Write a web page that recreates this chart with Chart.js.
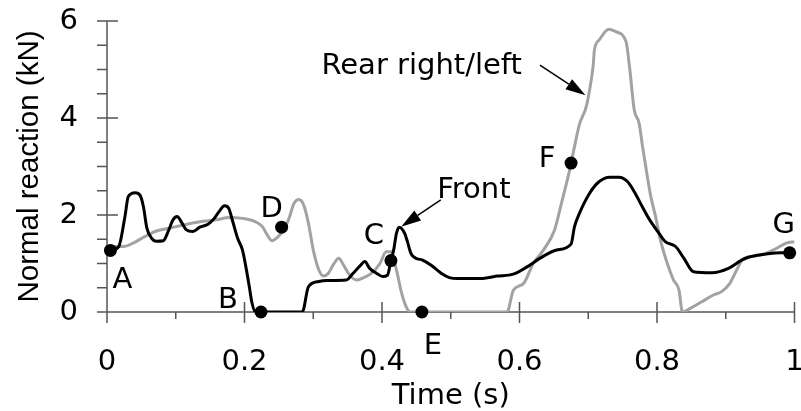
<!DOCTYPE html>
<html>
<head>
<meta charset="utf-8">
<script src="https://cdn.jsdelivr.net/npm/chart.js@4.4.1/dist/chart.umd.min.js"></script>
<style>
  html, body { margin: 0; padding: 0; background: #fff; }
  canvas { display: block; }
</style>
</head>
<body>
<canvas id="reactionChart" width="801" height="411"></canvas>
<script>
// Front wheel normal reaction (black)
const frontTime = [
  0, 0.005, 0.017, 0.026, 0.031, 0.041, 0.048, 0.053, 0.058, 0.065,
  0.072, 0.082, 0.089, 0.096, 0.102, 0.108, 0.115, 0.125, 0.135, 0.147,
  0.156, 0.163, 0.171, 0.177, 0.183, 0.190, 0.197, 0.202, 0.207, 0.211,
  0.216, 0.224, 0.284, 0.293, 0.308, 0.320, 0.348, 0.358, 0.368, 0.375,
  0.382, 0.392, 0.401, 0.408, 0.413, 0.417, 0.421, 0.425, 0.433, 0.437,
  0.442, 0.449, 0.459, 0.471, 0.486, 0.498, 0.510, 0.543, 0.567, 0.591,
  0.611, 0.630, 0.654, 0.675, 0.680, 0.687, 0.702, 0.716, 0.731, 0.745,
  0.757, 0.767, 0.776, 0.788, 0.803, 0.812, 0.827, 0.839, 0.853, 0.880,
  0.904, 0.923, 0.933, 0.961, 0.981, 0.993
];
const frontForce = [
  1.26, 1.27, 1.35, 1.96, 2.38, 2.46, 2.41, 2.17, 1.73, 1.52,
  1.46, 1.47, 1.66, 1.90, 1.97, 1.86, 1.70, 1.66, 1.75, 1.81,
  1.93, 2.07, 2.19, 2.14, 1.86, 1.52, 1.28, 0.93, 0.52, 0.18,
  0, 0, 0, 0.52, 0.63, 0.65, 0.66, 0.80, 0.95, 1.04,
  0.90, 0.80, 0.73, 0.76, 1.06, 1.28, 1.62, 1.75, 1.62, 1.45,
  1.21, 1.11, 1.07, 0.97, 0.80, 0.71, 0.69, 0.69, 0.74, 0.78,
  0.93, 1.11, 1.28, 1.40, 1.76, 2.03, 2.45, 2.69, 2.78, 2.78,
  2.69, 2.48, 2.24, 1.93, 1.62, 1.45, 1.35, 1.11, 0.83, 0.81,
  0.90, 1.07, 1.13, 1.20, 1.22, 1.22
];

// Rear right/left normal reaction (grey)
const rearTime = [
  0, 0.024, 0.038, 0.053, 0.072, 0.091, 0.110, 0.135, 0.159, 0.178,
  0.197, 0.216, 0.226, 0.233, 0.240, 0.248, 0.255, 0.264, 0.272, 0.279,
  0.286, 0.293, 0.300, 0.308, 0.315, 0.322, 0.329, 0.337, 0.344, 0.353,
  0.363, 0.375, 0.385, 0.397, 0.406, 0.413, 0.421, 0.428, 0.435, 0.441,
  0.582, 0.591, 0.606, 0.620, 0.635, 0.651, 0.661, 0.673, 0.680, 0.687,
  0.697, 0.702, 0.707, 0.709, 0.716, 0.730, 0.740, 0.755, 0.760, 0.767,
  0.774, 0.779, 0.786, 0.791, 0.798, 0.805, 0.815, 0.824, 0.832, 0.837,
  0.849, 0.865, 0.882, 0.894, 0.906, 0.916, 0.925, 0.942, 0.957, 0.976,
  0.988, 1.0
];
const rearForce = [
  1.35, 1.35, 1.42, 1.54, 1.67, 1.73, 1.79, 1.86, 1.90, 1.95,
  1.93, 1.86, 1.76, 1.59, 1.47, 1.54, 1.66, 1.90, 2.24, 2.32,
  2.21, 1.83, 1.28, 0.87, 0.74, 0.80, 0.97, 1.11, 0.97, 0.76,
  0.66, 0.72, 0.80, 1.00, 1.24, 1.24, 0.87, 0.42, 0.11, 0,
  0, 0.45, 0.59, 1.00, 1.28, 1.69, 2.24, 2.93, 3.41, 3.86,
  4.23, 4.58, 5.06, 5.40, 5.61, 5.83, 5.78, 5.57, 5.06, 4.16,
  3.89, 3.41, 2.79, 2.38, 1.96, 1.48, 1.00, 0.66, 0.45, 0,
  0.08, 0.21, 0.35, 0.42, 0.59, 0.87, 1.09, 1.15, 1.20, 1.33,
  1.42, 1.45
];

// Marked instants A..G
const markerLabels = ['A', 'B', 'C', 'D', 'E', 'F', 'G'];
const markerTime = [0.005, 0.224, 0.413, 0.254, 0.458, 0.675, 0.993];
const markerForce = [1.27, 0, 1.06, 1.75, 0, 3.07, 1.22];

const FONT = 'DejaVu Sans';
const GREY = '#a2a2a2';
// label offsets from each dot, px
const LABEL_OFFSETS = [[12, 27], [-33, -15], [-17, -27], [-10, -21], [11, 31], [-24, -7], [-6, -30]];

function toPoints(xs, ys) {
  return xs.map((x, i) => ({ x, y: ys[i] }));
}

function drawArrow(ctx, x0, y0, x1, y1) {
  const ang = Math.atan2(y1 - y0, x1 - x0);
  const len = 20, half = 6;
  const bx = x1 - len * Math.cos(ang), by = y1 - len * Math.sin(ang);
  ctx.beginPath();
  ctx.moveTo(x0, y0);
  ctx.lineTo(bx, by);
  ctx.stroke();
  ctx.beginPath();
  ctx.moveTo(x1, y1);
  ctx.lineTo(bx + half * Math.sin(ang), by - half * Math.cos(ang));
  ctx.lineTo(bx - half * Math.sin(ang), by + half * Math.cos(ang));
  ctx.closePath();
  ctx.fill();
}

// axis lines with crossing major ticks and outside minor ticks
const axisPlugin = {
  id: 'crossAxes',
  beforeDatasetsDraw(chart) {
    const { ctx, chartArea: a, scales: { x, y } } = chart;
    ctx.save();
    ctx.strokeStyle = '#555';
    ctx.lineWidth = 1.5;
    ctx.beginPath();
    ctx.moveTo(a.left, a.top);
    ctx.lineTo(a.left, a.bottom);
    ctx.moveTo(a.left, a.bottom);
    ctx.lineTo(a.right, a.bottom);
    for (let i = 0; i <= 12; i++) {
      const py = y.getPixelForValue(i * 0.5);
      ctx.moveTo(a.left - 10, py);
      ctx.lineTo(a.left + (i % 4 === 0 ? 11 : 0), py);
    }
    for (let i = 0; i <= 10; i++) {
      const px = x.getPixelForValue(i / 10);
      const major = i % 2 === 0;
      ctx.moveTo(px, a.bottom + (major ? 11 : 7));
      ctx.lineTo(px, a.bottom - (major ? 10 : 0));
    }
    ctx.stroke();
    ctx.restore();
  }
};

const notePlugin = {
  id: 'notes',
  afterDatasetsDraw(chart) {
    const { ctx, scales: { x, y } } = chart;
    ctx.save();
    ctx.fillStyle = '#000';
    ctx.strokeStyle = '#000';
    ctx.lineWidth = 1.5;
    ctx.font = `29px "${FONT}"`;
    ctx.textAlign = 'center';
    ctx.textBaseline = 'alphabetic';
    markerLabels.forEach((lab, i) => {
      const [dx, dy] = LABEL_OFFSETS[i];
      ctx.fillText(lab, x.getPixelForValue(markerTime[i]) + dx, y.getPixelForValue(markerForce[i]) + dy + 10.5);
    });
    ctx.fillText('Front', x.getPixelForValue(0.5337), y.getPixelForValue(2.557) + 10.5);
    ctx.fillText('Rear right/left', x.getPixelForValue(0.4577), y.getPixelForValue(5.134) + 10.5);
    drawArrow(ctx, x.getPixelForValue(0.4855), y.getPixelForValue(2.31), x.getPixelForValue(0.4278), y.getPixelForValue(1.76));
    drawArrow(ctx, x.getPixelForValue(0.6297), y.getPixelForValue(5.09), x.getPixelForValue(0.696), y.getPixelForValue(4.47));
    ctx.restore();
  }
};

new Chart(document.getElementById('reactionChart'), {
  type: 'line',
  data: {
    datasets: [
      {
        label: 'Markers',
        data: toPoints(markerTime, markerForce),
        showLine: false,
        pointRadius: 6.5,
        pointBackgroundColor: '#000',
        pointBorderWidth: 0,
        clip: false
      },
      {
        label: 'Front',
        data: toPoints(frontTime, frontForce),
        borderColor: '#000',
        borderWidth: 3,
        pointRadius: 0,
        cubicInterpolationMode: 'monotone'
      },
      {
        label: 'Rear right/left',
        data: toPoints(rearTime, rearForce),
        borderColor: GREY,
        borderWidth: 3,
        pointRadius: 0,
        cubicInterpolationMode: 'monotone'
      }
    ]
  },
  options: {
    responsive: false,
    animation: false,
    devicePixelRatio: 1,
    layout: { padding: { top: 21, right: 1, left: 0, bottom: 0 } },
    plugins: { legend: { display: false }, tooltip: { enabled: false } },
    scales: {
      x: {
        type: 'linear',
        min: 0,
        max: 1,
        grid: { display: false, drawTicks: false },
        border: { display: false },
        ticks: {
          stepSize: 0.2, padding: 33, color: '#000', maxRotation: 0, autoSkip: false,
          font: { family: FONT, size: 29 },
          callback: v => String(Number(v.toFixed(1)))
        },
        title: { display: true, text: 'Time (s)', color: '#000', font: { family: FONT, size: 29, lineHeight: 1 }, padding: { top: 0, bottom: 0 } },
        afterFit: s => { s.height = 99; s.paddingLeft = 0; s.paddingRight = 0; }
      },
      y: {
        min: 0,
        max: 6,
        grid: { display: false, drawTicks: false },
        border: { display: false },
        ticks: { stepSize: 2, padding: 29, color: '#000', font: { family: FONT, size: 29 } },
        title: { display: true, text: 'Normal reaction (kN)', color: '#000', font: { family: 'Liberation Sans', size: 29.5, lineHeight: 1.2 }, padding: { top: 12, bottom: 0 } },
        afterFit: s => { s.width = 107; s.paddingTop = 0; s.paddingBottom = 0; }
      }
    }
  },
  plugins: [axisPlugin, notePlugin]
});
</script>
</body>
</html>
